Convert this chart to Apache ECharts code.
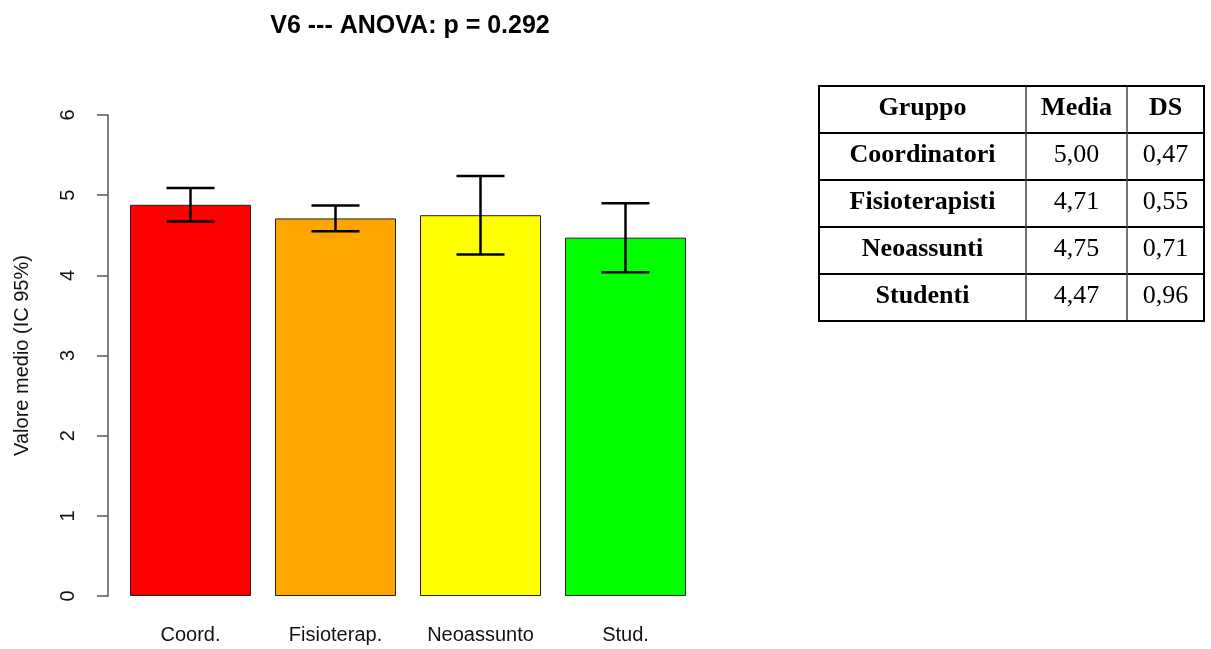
<!DOCTYPE html>
<html>
<head>
<meta charset="utf-8">
<title>V6 --- ANOVA</title>
<script src="https://cdn.jsdelivr.net/npm/echarts@6/dist/echarts.min.js"></script>
<style>
  html, body { margin: 0; padding: 0; background: #ffffff; }
  #chart { width: 1211px; height: 649px; }
</style>
</head>
<body>
<div id="chart"></div>
<script>
// Group means with 95% confidence interval bounds
const categories = ['Coord.', 'Fisioterap.', 'Neoassunto', 'Stud.'];
const means = [4.88, 4.71, 4.75, 4.47];
const ciLower = [4.67, 4.55, 4.26, 4.04];
const ciUpper = [5.09, 4.87, 5.24, 4.90];
const barColors = ['#ff0000', '#ffa500', '#ffff00', '#00ff00'];

// Summary table
const tableHeader = ['Gruppo', 'Media', 'DS'];
const tableGroups = ['Coordinatori', 'Fisioterapisti', 'Neoassunti', 'Studenti'];
const tableMedia = ['5,00', '4,71', '4,75', '4,47'];
const tableDS = ['0,47', '0,55', '0,71', '0,96'];

const chartTitle = 'V6 --- ANOVA: p = 0.292';
const yAxisTitle = 'Valore medio (IC 95%)';

const sans = '"Liberation Sans", Arial, Helvetica, sans-serif';
const serif = '"Liberation Serif", "Times New Roman", serif';

// Table layout
const colEdges = [819, 1026, 1127, 1204];
const tableTop = 86;
const rowH = 47;

function buildTable() {
  const rows = [tableHeader].concat(tableGroups.map((g, i) => [g, tableMedia[i], tableDS[i]]));
  const els = [];
  const bottom = tableTop + rows.length * rowH;
  rows.forEach((row, r) => {
    row.forEach((txt, c) => {
      const bold = r === 0 || c === 0;
      els.push({
        type: 'text',
        x: (colEdges[c] + colEdges[c + 1]) / 2,
        y: tableTop + r * rowH + rowH / 2 - 1,
        style: {
          text: txt,
          fill: '#000',
          font: (bold ? 'bold ' : '') + '26px ' + serif,
          textAlign: 'center',
          textVerticalAlign: 'middle'
        }
      });
    });
  });
  for (let r = 1; r < rows.length; r++) {
    els.push({
      type: 'line',
      shape: { x1: colEdges[0], y1: tableTop + r * rowH, x2: colEdges[3], y2: tableTop + r * rowH },
      style: { stroke: '#000', lineWidth: 2 }
    });
  }
  for (let c = 1; c < 3; c++) {
    els.push({
      type: 'line',
      shape: { x1: colEdges[c], y1: tableTop, x2: colEdges[c], y2: bottom },
      style: { stroke: '#444', lineWidth: 1.5 }
    });
  }
  els.push({
    type: 'rect',
    shape: { x: colEdges[0], y: tableTop, width: colEdges[3] - colEdges[0], height: bottom - tableTop },
    style: { fill: 'none', stroke: '#000', lineWidth: 2 }
  });
  return els;
}

const chart = echarts.init(document.getElementById('chart'), null, { renderer: 'canvas' });

chart.setOption({
  backgroundColor: '#ffffff',
  animation: false,
  title: {
    text: chartTitle,
    left: 405,
    top: 9,
    textAlign: 'center',
    textStyle: { fontFamily: sans, fontWeight: 'bold', fontSize: 25, color: '#000' }
  },
  grid: { left: 118, right: 513, top: 115, bottom: 53, containLabel: false },
  xAxis: {
    type: 'category',
    data: categories,
    axisLine: { show: false },
    axisTick: { show: false },
    axisLabel: { margin: 29, fontFamily: sans, fontSize: 20, color: '#111' }
  },
  yAxis: {
    type: 'value',
    min: 0,
    max: 6,
    interval: 1,
    offset: 10,
    name: yAxisTitle,
    nameLocation: 'middle',
    nameGap: 76,
    nameTextStyle: { fontFamily: sans, fontSize: 20, color: '#111' },
    splitLine: { show: false },
    axisLine: { show: true, lineStyle: { color: '#555', width: 1.5 } },
    axisTick: { show: true, length: 11, lineStyle: { color: '#555', width: 1.5 } },
    axisLabel: { rotate: 90, margin: 30, fontFamily: sans, fontSize: 20, color: '#111' }
  },
  series: [
    {
      type: 'bar',
      barWidth: 121,
      data: means.map((v, i) => ({
        value: v,
        itemStyle: { color: barColors[i], borderColor: '#222', borderWidth: 1 }
      })),
      z: 2
    },
    {
      type: 'custom',
      z: 5,
      data: categories.map((c, i) => [i, ciLower[i], ciUpper[i]]),
      renderItem: function (params, api) {
        const lo = api.coord([api.value(0), api.value(1)]);
        const hi = api.coord([api.value(0), api.value(2)]);
        const half = 24;
        const st = { stroke: '#000', lineWidth: 2.5 };
        return {
          type: 'group',
          children: [
            { type: 'line', shape: { x1: hi[0], y1: hi[1], x2: lo[0], y2: lo[1] }, style: st },
            { type: 'line', shape: { x1: hi[0] - half, y1: hi[1], x2: hi[0] + half, y2: hi[1] }, style: st },
            { type: 'line', shape: { x1: lo[0] - half, y1: lo[1], x2: lo[0] + half, y2: lo[1] }, style: st }
          ]
        };
      }
    }
  ],
  graphic: buildTable()
});
</script>
</body>
</html>
